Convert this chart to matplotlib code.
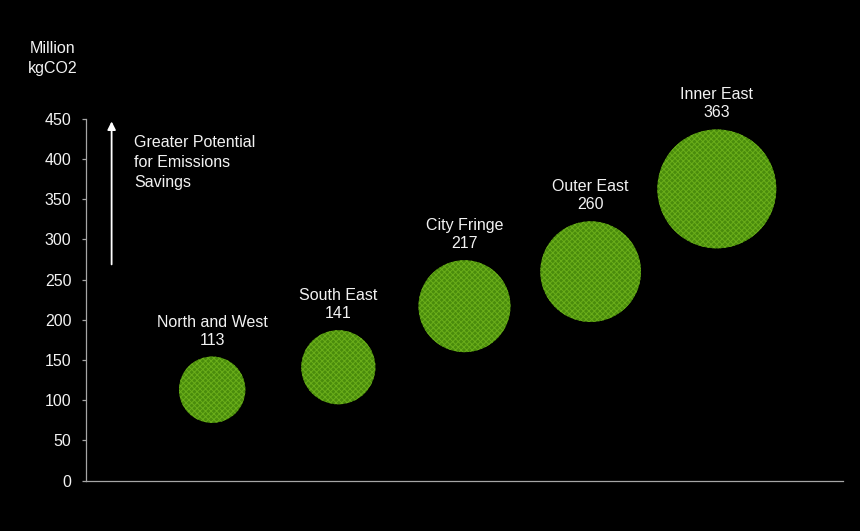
import numpy as np
import matplotlib
matplotlib.use("Agg")
import matplotlib.pyplot as plt

# Regional emissions savings potential (Million kgCO2)
regions = ["North and West", "South East", "City Fringe", "Outer East", "Inner East"]
positions = [1, 2, 3, 4, 5]
savings = [113, 141, 217, 260, 363]

plt.rcParams["font.family"] = ["Liberation Sans", "DejaVu Sans"]
plt.rcParams["hatch.color"] = "#6aae1a"
plt.rcParams["hatch.linewidth"] = 0.7

text_color = "#f2f2f2"
axis_color = "#a6a6a6"
font_size = 11.5

fig = plt.figure(figsize=(8.6, 5.31), dpi=100, facecolor="black")
ax = fig.add_axes([0.1, 0.0951, 0.8802, 0.6808], facecolor="black")

# bubble area proportional to the value
sizes = 20.2 * np.array(savings)
ax.scatter(positions, savings, s=sizes, c="#4a8c0c", hatch="xxxxxx",
           linewidths=0, zorder=3)

for x, y, name, s in zip(positions, savings, regions, sizes):
    radius_pt = np.sqrt(s) / 2
    ax.annotate(f"{name}\n{y}", (x, y), xytext=(0, radius_pt + 6.5),
                textcoords="offset points", ha="center", va="bottom",
                multialignment="center", color=text_color, fontsize=font_size,
                linespacing=1.25)

ax.set_xlim(0, 6)
ax.set_ylim(0, 450)
ax.set_yticks(np.arange(0, 451, 50))
ax.set_xticks([])

for side in ["top", "right"]:
    ax.spines[side].set_visible(False)
for side in ["left", "bottom"]:
    ax.spines[side].set_color(axis_color)
    ax.spines[side].set_linewidth(0.9)
ax.tick_params(axis="y", colors=axis_color, labelcolor=text_color,
               labelsize=font_size, length=3, width=0.9, pad=7.5)

# direction arrow and caption
ax.annotate("", xy=(0.203, 447), xytext=(0.203, 269),
            arrowprops=dict(arrowstyle="-|>", color="white", lw=1.3,
                            mutation_scale=12, shrinkA=0, shrinkB=0))
ax.text(0.38, 430, "Greater Potential\nfor Emissions\nSavings", ha="left",
        va="top", color=text_color, fontsize=font_size, linespacing=1.4)

fig.text(53 / 860, 1 - 41 / 531, "Million\nkgCO2", ha="center", va="top",
         color=text_color, fontsize=font_size, linespacing=1.4)

fig.savefig("out.png", dpi=100, facecolor="black")
